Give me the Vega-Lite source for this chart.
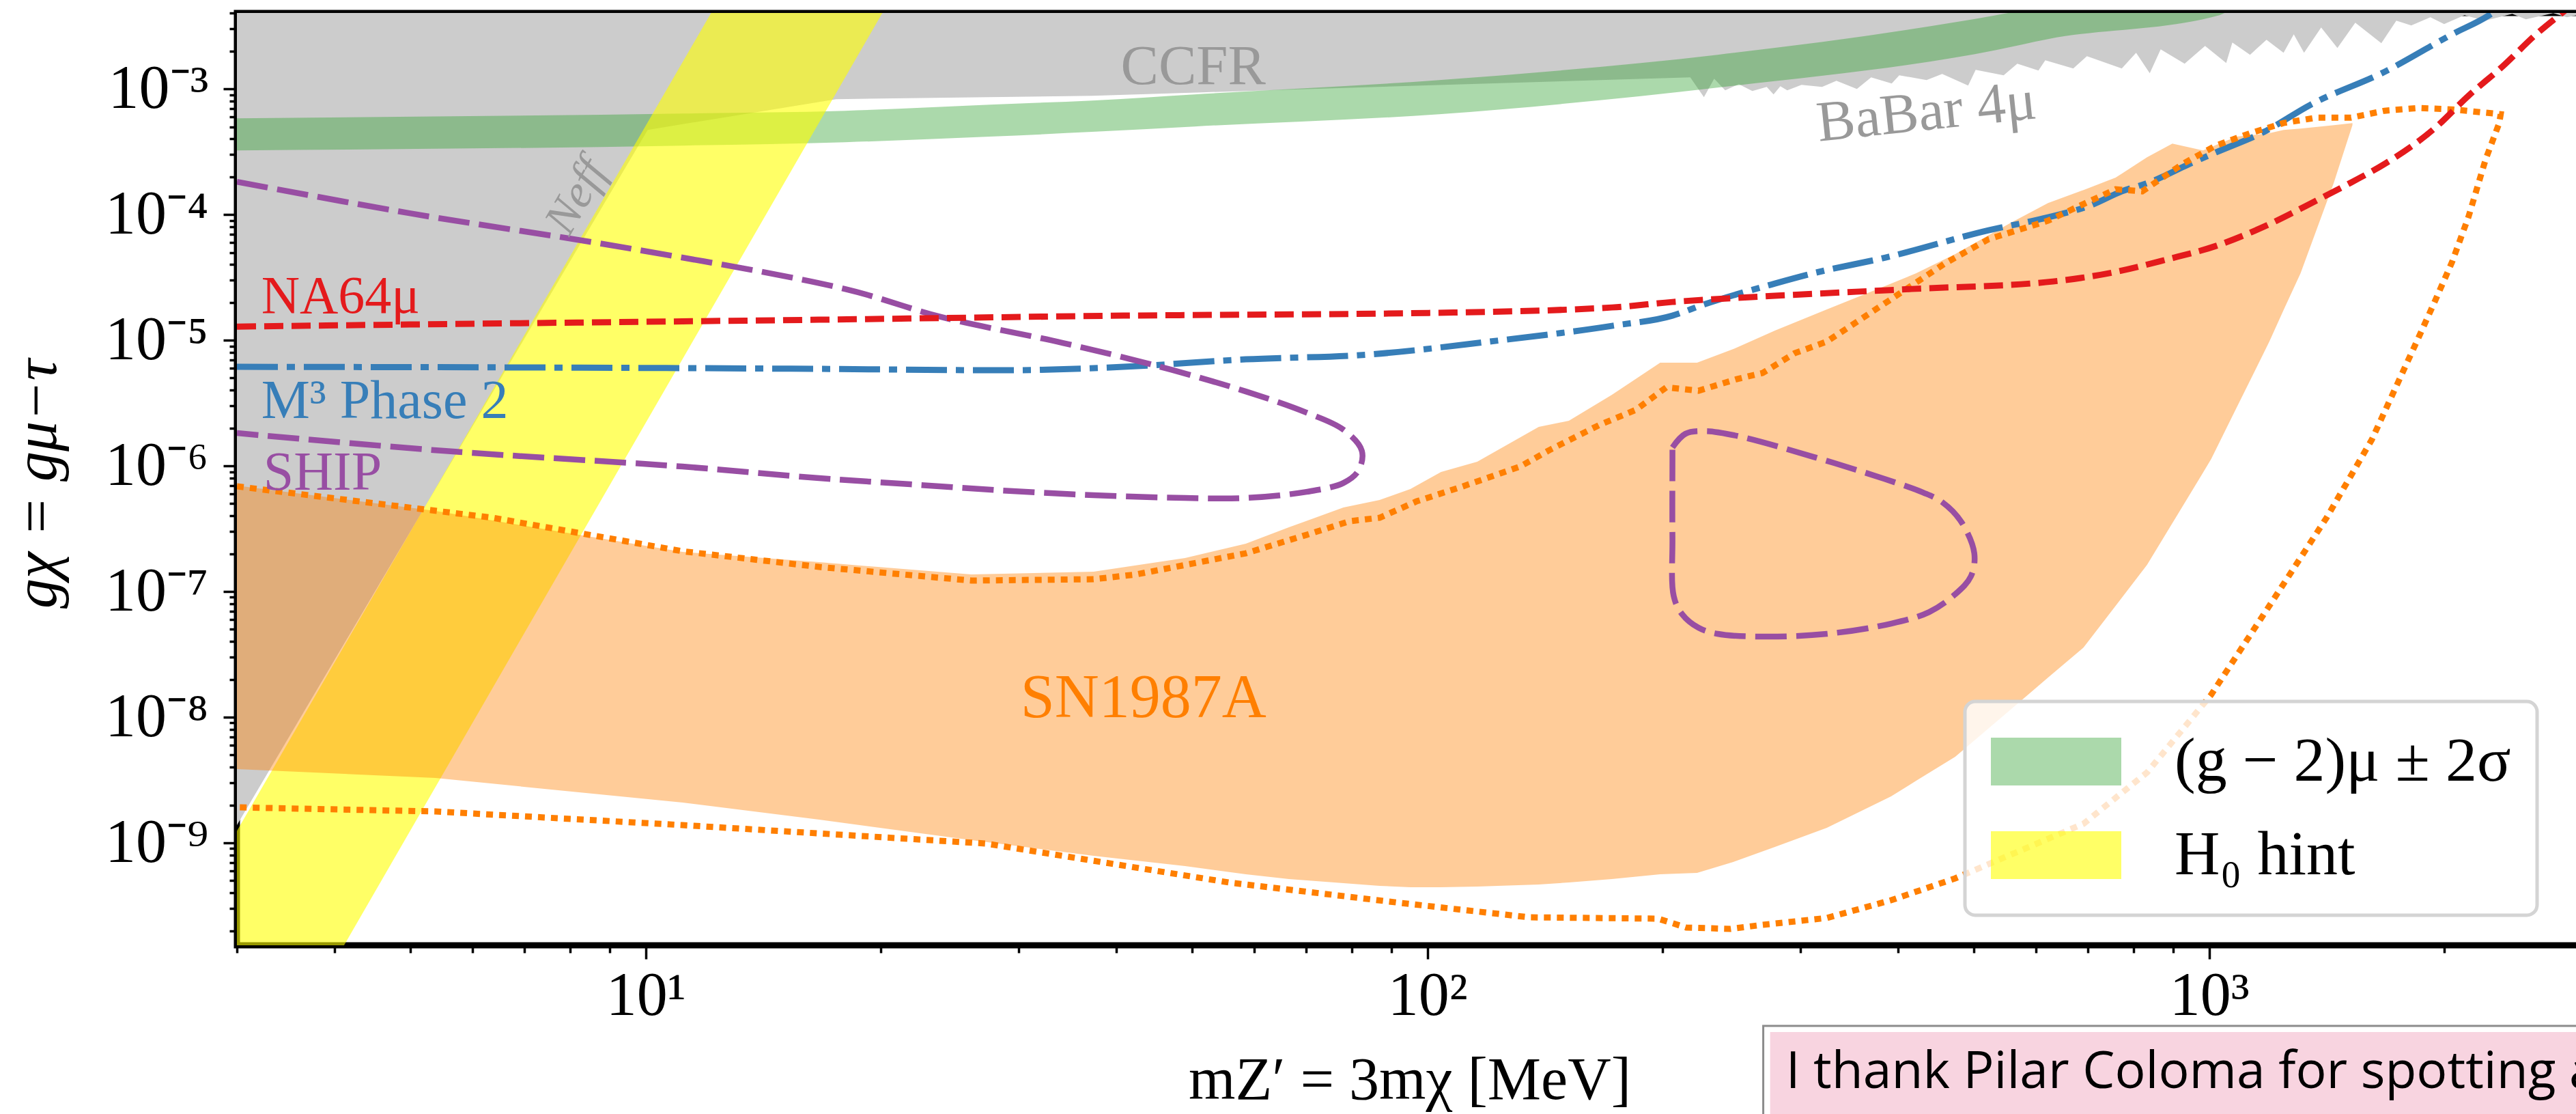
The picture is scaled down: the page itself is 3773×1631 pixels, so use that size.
{
"$schema":"https://vega.github.io/schema/vega-lite/v6.json",
"width":3435,"height":1365,
"autosize":{"type":"none"},
"padding":{"left":347,"top":19,"right":0,"bottom":247},
"background":"white",
"config":{
 "view":{"stroke":"black","strokeWidth":9},
 "axis":{"grid":false,"domainColor":"black","domainWidth":5,"tickColor":"black","tickWidth":3.5,"labelFont":"Liberation Serif","labelFontSize":90,"labelColor":"black","titleFont":"Liberation Serif","titleFontSize":88,"titleColor":"black","titleFontWeight":"normal","labelFlush":false,"labelOverlap":false,"labelBound":false,"zindex":1},
 "legend":{"strokeWidth":5},
 "text":{"font":"Liberation Serif"}
},
"datasets":{
 "gray":[
{"m":3,"g":1.384e-9,"g2":1},{"m":10.06,"g":4.719e-4,"g2":1},{"m":17.52,"g":8.289e-4,"g2":1},{"m":37.25,"g":8.824e-4,"g2":1},{"m":51.49,"g":9.393e-4,"g2":1},{"m":216.9,"g":1.237e-3,"g2":1},
{"m":225.8,"g":8.605e-4,"g2":1},{"m":232.7,"g":1.2065e-3,"g2":1},{"m":240.4,"g":9.752e-4,"g2":1},{"m":250.2,"g":1.0917e-3,"g2":1},{"m":260.4,"g":9.632e-4,"g2":1},{"m":271.7,"g":1.038e-3,"g2":1},{"m":277.2,"g":9.047e-4,"g2":1},{"m":282.8,"g":1.051e-3,"g2":1},{"m":288.6,"g":9.752e-4,"g2":1},{"m":301.0,"g":1.078e-3,"g2":1},{"m":319.8,"g":1.038e-3,"g2":1},{"m":333.6,"g":1.1621e-3,"g2":1},{"m":354.3,"g":1.0e-3,"g2":1},{"m":369.5,"g":1.237e-3,"g2":1},{"m":392.6,"g":1.1054e-3,"g2":1},{"m":401.4,"g":1.2844e-3,"g2":1},{"m":435.0,"g":1.1767e-3,"g2":1},{"m":455.5,"g":1.317e-3,"g2":1},{"m":491.7,"g":1.0646e-3,"g2":1},{"m":502.7,"g":1.4197e-3,"g2":1},{"m":545.9,"g":1.2844e-3,"g2":1},{"m":568.3,"g":1.589e-3,"g2":1},{"m":604.8,"g":1.402e-3,"g2":1},{"m":617.1,"g":1.6916e-3,"g2":1},{"m":670.1,"g":1.4557e-3,"g2":1},{"m":697.7,"g":1.8234e-3,"g2":1},{"m":773.1,"g":1.4557e-3,"g2":1},{"m":806.4,"g":1.9411e-3,"g2":1},{"m":839.5,"g":1.3335e-3,"g2":1},{"m":866.9,"g":2.0661e-3,"g2":1},{"m":930.2,"g":1.589e-3,"g2":1},{"m":988.0,"g":2.1992e-3,"g2":1},{"m":1051.5,"g":1.609e-3,"g2":1},{"m":1070.7,"g":2.3413e-3,"g2":1},{"m":1128,"g":1.8695e-3,"g2":1},{"m":1184,"g":2.4616e-3,"g2":1},{"m":1245,"g":1.9411e-3,"g2":1},{"m":1283,"g":2.7213e-3,"g2":1},{"m":1322.5,"g":1.9411e-3,"g2":1},{"m":1390.8,"g":3.0839e-3,"g2":1},{"m":1459,"g":2.1184e-3,"g2":1},{"m":1537.9,"g":3.3661e-3,"g2":1},{"m":1660.5,"g":2.3122e-3,"g2":1},{"m":1735.5,"g":3.495e-3,"g2":1},{"m":1813.6,"g":3.2018e-3,"g2":1},{"m":1918.8,"g":3.7206e-3,"g2":1},{"m":1997.9,"g":3.283e-3,"g2":1},{"m":2121.3,"g":3.8629e-3,"g2":1},{"m":2253.4,"g":3.495e-3,"g2":1},{"m":2441.9,"g":3.9608e-3,"g2":1},{"m":2542.1,"g":3.5836e-3,"g2":1},{"m":2755.2,"g":4.01e-3,"g2":1},{"m":2868.4,"g":3.7206e-3,"g2":1},{"m":3047,"g":4.01e-3,"g2":1}
 ],
 "green":[
{"m":3,"g":3.243e-4,"g2":5.840e-4,"band":"(g − 2)μ ± 2σ"},{"m":11.146,"g":3.539e-4,"g2":6.374e-4,"band":"(g − 2)μ ± 2σ"},{"m":17.99,"g":3.768e-4,"g2":6.700e-4,"band":"(g − 2)μ ± 2σ"},{"m":27.55,"g":4.166e-4,"g2":7.499e-4,"band":"(g − 2)μ ± 2σ"},{"m":37.25,"g":4.548e-4,"g2":8.085e-4,"band":"(g − 2)μ ± 2σ"},{"m":50.37,"g":5.025e-4,"g2":9.047e-4,"band":"(g − 2)μ ± 2σ"},{"m":103.5,"g":6.294e-4,"g2":1.1767e-3,"band":"(g − 2)μ ± 2σ"},{"m":235.0,"g":1.0254e-3,"g2":1.8695e-3,"band":"(g − 2)μ ± 2σ"},{"m":534.0,"g":2.040e-3,"g2":3.863e-3,"band":"(g − 2)μ ± 2σ"},{"m":622.2,"g":2.493e-3,"g2":4.603e-3,"band":"(g − 2)μ ± 2σ"},{"m":1031,"g":3.863e-3,"g2":8.394e-3,"band":"(g − 2)μ ± 2σ"},{"m":1049.5,"g":4.061e-3,"g2":8.935e-3,"band":"(g − 2)μ ± 2σ"}
 ],
 "yellow":[
{"m":3,"g":5.10e-12,"g2":1.243e-9,"band":"H₀ hint"},{"m":20.38,"g":4.714e-3,"g2":1.059,"band":"H₀ hint"}
 ],
 "sn":[
{"m":3,"g":3.863e-9,"g2":6.956e-7},{"m":5.383,"g":3.283e-9,"g2":4.377e-7},{"m":11.146,"g":2.092e-9,"g2":2.066e-7},{"m":16.67,"g":1.530e-9,"g2":1.712e-7},{"m":26.10,"g":1.051e-9,"g2":1.367e-7},{"m":37.40,"g":7.885e-10,"g2":1.438e-7},{"m":48.97,"g":6.534e-10,"g2":1.846e-7},{"m":58.57,"g":5.623e-10,"g2":2.401e-7},{"m":66.49,"g":5.152e-10,"g2":3.243e-7},{"m":78.08,"g":4.780e-10,"g2":4.661e-7},{"m":86.87,"g":4.548e-10,"g2":5.350e-7},{"m":95.10,"g":4.435e-10,"g2":6.534e-7},{"m":104.1,"g":4.435e-10,"g2":8.935e-7},{"m":115.8,"g":4.491e-10,"g2":1.078e-6},{"m":138.8,"g":4.661e-10,"g2":2.040e-6},{"m":151.7,"g":4.840e-10,"g2":2.284e-6},{"m":172.2,"g":5.152e-10,"g2":3.674e-6},{"m":198.5,"g":5.623e-10,"g2":6.616e-6},{"m":221.3,"g":5.768e-10,"g2":6.616e-6},{"m":246.2,"g":7.044e-10,"g2":8.500e-6},{"m":278.3,"g":9.278e-10,"g2":1.192e-5},{"m":324.3,"g":1.317e-9,"g2":1.756e-5},{"m":391.8,"g":2.341e-9,"g2":2.825e-5},{"m":422.0,"g":3.123e-9,"g2":3.409e-5},{"m":473.3,"g":4.840e-9,"g2":4.840e-5},{"m":555.8,"g":1.133e-8,"g2":8.500e-5},{"m":622.2,"g":2.066e-8,"g2":1.237e-4},{"m":690.7,"g":3.584e-8,"g2":1.569e-4},{"m":759.2,"g":7.689e-8,"g2":1.966e-4},{"m":832.8,"g":1.629e-7,"g2":2.861e-4},{"m":897.2,"g":3.495e-7,"g2":3.674e-4},{"m":982.1,"g":8.824e-7,"g2":3.243e-4},{"m":1006,"g":1.133e-6,"g2":3.452e-4},{"m":1084,"g":2.897e-6,"g2":4.166e-4},{"m":1194,"g":9.753e-6,"g2":4.435e-4},{"m":1245,"g":1.735e-5,"g2":4.719e-4},{"m":1309,"g":3.409e-5,"g2":4.840e-4},{"m":1444,"g":1.800e-4,"g2":5.152e-4},{"m":1525,"g":5.152e-4,"g2":5.350e-4}
 ],
 "red":[
{"m":3,"g":1.284e-5},{"m":4.987,"g":1.334e-5},{"m":16.67,"g":1.456e-5},{"m":40.87,"g":1.569e-5},{"m":100.4,"g":1.649e-5},{"m":172.2,"g":1.823e-5},{"m":205.8,"g":2.015e-5},{"m":278.3,"g":2.256e-5},{"m":416.2,"g":2.556e-5},{"m":631.0,"g":2.934e-5},{"m":759.2,"g":3.495e-5},{"m":881.0,"g":4.377e-5},{"m":1020,"g":5.623e-5},{"m":1184,"g":8.186e-5},{"m":1374,"g":1.301e-4},{"m":1519,"g":1.800e-4},{"m":1676,"g":2.524e-4},{"m":1946,"g":4.901e-4},{"m":2147,"g":8.824e-4},{"m":2374,"g":1.511e-3},{"m":2620,"g":2.721e-3},{"m":2805,"g":3.863e-3},{"m":2927,"g":4.780e-3}
 ],
 "blue":[
{"m":3,"g":6.139e-6},{"m":7.456,"g":6.063e-6},{"m":16.67,"g":5.913e-6},{"m":28.57,"g":5.768e-6},{"m":40.87,"g":6.139e-6},{"m":58.57,"g":7.044e-6},{"m":83.95,"g":7.689e-6},{"m":120.1,"g":9.753e-6},{"m":172.2,"g":1.301e-5},{"m":205.8,"g":1.569e-5},{"m":225.4,"g":1.917e-5},{"m":278.3,"g":2.825e-5},{"m":311.5,"g":3.409e-5},{"m":385.5,"g":4.548e-5},{"m":522.3,"g":7.499e-5},{"m":622.2,"g":9.512e-5},{"m":707.5,"g":1.192e-4},{"m":773.1,"g":1.530e-4},{"m":837.8,"g":1.800e-4},{"m":943.3,"g":2.524e-4},{"m":1020,"g":3.123e-4},{"m":1175,"g":4.548e-4},{"m":1349,"g":7.499e-4},{"m":1676,"g":1.367e-3},{"m":2046,"g":2.721e-3},{"m":2281,"g":3.863e-3},{"m":2393,"g":4.780e-3}
 ],
 "dotted":[
{"i":1,"m":3,"g":6.870e-7},{"i":2,"m":6.374,"g":3.863e-7},{"i":3,"m":11.146,"g":2.092e-7},{"i":4,"m":16.67,"g":1.569e-7},{"i":5,"m":26.10,"g":1.222e-7},{"i":6,"m":37.40,"g":1.253e-7},{"i":7,"m":42.37,"g":1.367e-7},{"i":8,"m":58.57,"g":2.015e-7},{"i":9,"m":70.04,"g":2.825e-7},{"i":10,"m":79.51,"g":3.629e-7},{"i":11,"m":86.87,"g":3.863e-7},{"i":12,"m":96.84,"g":5.217e-7},{"i":13,"m":109.7,"g":6.700e-7},{"i":14,"m":131.4,"g":9.876e-7},{"i":15,"m":143.7,"g":1.350e-6},{"i":16,"m":166.0,"g":2.119e-6},{"i":17,"m":184.7,"g":2.790e-6},{"i":18,"m":202.1,"g":4.217e-6},{"i":19,"m":222.2,"g":3.961e-6},{"i":20,"m":248.7,"g":4.901e-6},{"i":21,"m":268.4,"g":5.484e-6},{"i":22,"m":295.0,"g":7.885e-6},{"i":23,"m":324.3,"g":9.753e-6},{"i":24,"m":389.4,"g":2.066e-5},{"i":25,"m":460.1,"g":4.114e-5},{"i":26,"m":522.3,"g":6.374e-5},{"i":27,"m":622.2,"g":8.935e-5},{"i":28,"m":686.5,"g":1.192e-4},{"i":29,"m":759.2,"g":1.589e-4},{"i":30,"m":821.2,"g":1.530e-4},{"i":31,"m":924.6,"g":2.524e-4},{"i":32,"m":1020,"g":3.539e-4},{"i":33,"m":1128,"g":4.435e-4},{"i":34,"m":1245,"g":5.350e-4},{"i":35,"m":1374,"g":5.913e-4},{"i":36,"m":1519,"g":5.913e-4},{"i":37,"m":1676,"g":6.700e-4},{"i":38,"m":1850,"g":7.044e-4},{"i":39,"m":2046,"g":6.870e-4},{"i":40,"m":2360,"g":6.294e-4},{"i":41,"m":2350,"g":5.350e-4},{"i":42,"m":2258,"g":2.755e-4},{"i":43,"m":2147,"g":9.632e-5},{"i":44,"m":2046,"g":4.217e-5},{"i":45,"m":1946,"g":2.066e-5},{"i":46,"m":1843,"g":9.753e-6},{"i":47,"m":1614,"g":1.609e-6},{"i":48,"m":1413,"g":3.863e-7},{"i":49,"m":1216,"g":9.163e-8},{"i":50,"m":1006,"g":1.511e-8},{"i":51,"m":832.8,"g":3.629e-9},{"i":52,"m":690.7,"g":1.420e-9},{"i":53,"m":571.7,"g":8.605e-10},{"i":54,"m":473.3,"g":5.217e-10},{"i":55,"m":391.8,"g":3.495e-10},{"i":56,"m":324.3,"g":2.524e-10},{"i":57,"m":268.4,"g":2.227e-10},{"i":58,"m":244.2,"g":2.066e-10},{"i":59,"m":214.3,"g":2.119e-10},{"i":60,"m":197.3,"g":2.493e-10},{"i":61,"m":134.9,"g":2.556e-10},{"i":62,"m":92.47,"g":3.325e-10},{"i":63,"m":55.70,"g":4.840e-10},{"i":64,"m":27.22,"g":9.876e-10},{"i":65,"m":11.146,"g":1.384e-9},{"i":66,"m":5.383,"g":1.778e-9},{"i":67,"m":3,"g":1.917e-9}
 ],
 "shipbig":[
{"i":1,"m":3,"g":1.823e-4},{"i":2,"m":4.987,"g":1.025e-4},{"i":3,"m":9.472,"g":5.417e-5},{"i":4,"m":17.99,"g":2.556e-5},{"i":5,"m":23.89,"g":1.530e-5},{"i":6,"m":34.16,"g":9.512e-6},{"i":7,"m":45.56,"g":6.139e-6},{"i":8,"m":58.57,"g":3.912e-6},{"i":9,"m":70.04,"g":2.654e-6},{"i":10,"m":78.08,"g":1.941e-6},{"i":11,"m":82.44,"g":1.317e-6},{"i":12,"m":81.61,"g":9.163e-7},{"i":13,"m":78.08,"g":7.313e-7},{"i":14,"m":70.04,"g":6.216e-7},{"i":15,"m":58.57,"g":5.553e-7},{"i":16,"m":48.97,"g":5.553e-7},{"i":17,"m":37.40,"g":5.840e-7},{"i":18,"m":28.57,"g":6.374e-7},{"i":19,"m":21.82,"g":7.133e-7},{"i":20,"m":16.67,"g":7.984e-7},{"i":21,"m":11.146,"g":9.876e-7},{"i":22,"m":5.514,"g":1.317e-6},{"i":23,"m":3,"g":1.823e-6}
 ],
 "shipsmall":[
{"i":1,"m":205.8,"g":1.402e-6},{"i":2,"m":213.8,"g":1.800e-6},{"i":3,"m":226.3,"g":1.893e-6},{"i":4,"m":248.7,"g":1.735e-6},{"i":5,"m":312.1,"g":1.177e-6},{"i":6,"m":384.0,"g":7.885e-7},{"i":7,"m":430.6,"g":6.139e-7},{"i":8,"m":455.5,"g":5.152e-7},{"i":9,"m":481.9,"g":3.584e-7},{"i":10,"m":500.7,"g":2.015e-7},{"i":11,"m":495.6,"g":1.317e-7},{"i":12,"m":473.3,"g":9.512e-8},{"i":13,"m":438.4,"g":6.870e-8},{"i":14,"m":391.8,"g":5.553e-8},{"i":15,"m":324.3,"g":4.603e-8},{"i":16,"m":268.4,"g":4.377e-8},{"i":17,"m":235.1,"g":4.603e-8},{"i":18,"m":222.2,"g":5.152e-8},{"i":19,"m":211.7,"g":6.616e-8},{"i":20,"m":206.6,"g":9.163e-8},{"i":21,"m":205.8,"g":2.688e-7},{"i":22,"m":205.8,"g":1.133e-6},{"i":23,"m":205.8,"g":1.402e-6}
 ]
},
"encoding":{
 "x":{"field":"m","type":"quantitative","scale":{"type":"log","domain":[3,3000],"nice":false},"axis":null},
 "y":{"field":"g","type":"quantitative","scale":{"type":"log","domain":[1.53e-10,4.02e-3],"nice":false},"axis":null}
},
"layer":[
 {"data":{"name":"gray"},"mark":{"type":"area","color":"#cccccc","opacity":1,"clip":true},
  "encoding":{
   "x":{"field":"m","type":"quantitative","scale":{"type":"log","domain":[3,3000],"nice":false},
        "axis":{"orient":"bottom","values":[10,100,1000],"tickSize":20,"labelPadding":10,"labelExpr":"'10' + replace(replace(replace(replace(replace(replace(replace(replace(replace(replace(replace(toString(round(log(datum.value)/LN10)),'-','⁻'),'0','⁰'),'1','¹'),'2','²'),'3','³'),'4','⁴'),'5','⁵'),'6','⁶'),'7','⁷'),'8','⁸'),'9','⁹')","title":"mZ′ = 3mχ [MeV]","titleX":1717.5,"titleY":224,"titleBaseline":"alphabetic","titleAlign":"center","titleAnchor":"middle"}},
   "y":{"field":"g","type":"quantitative","scale":{"type":"log","domain":[1.53e-10,4.02e-3],"nice":false},
        "axis":{"orient":"left","values":[1e-9,1e-8,1e-7,1e-6,1e-5,1e-4,1e-3],"tickSize":20,"labelPadding":22,"labelExpr":"'10' + replace(replace(replace(replace(replace(replace(replace(replace(replace(replace(replace(toString(round(log(datum.value)/LN10)),'-','⁻'),'0','⁰'),'1','¹'),'2','²'),'3','³'),'4','⁴'),'5','⁵'),'6','⁶'),'7','⁷'),'8','⁸'),'9','⁹')","title":"gχ = gμ−τ","titleFontStyle":"italic","titleX":-266,"titleY":689,"titleAngle":270,"titleBaseline":"alphabetic","titleAlign":"center"}},
   "y2":{"field":"g2"}}},
 {"data":{"name":"green"},"mark":{"type":"area","opacity":1,"clip":true,"interpolate":"monotone"},
  "encoding":{
   "x":{"field":"m","type":"quantitative","scale":{"type":"log","domain":[3,3000],"nice":false},
        "axis":{"orient":"bottom","values":[3,4,5,6,7,8,9,20,30,40,50,60,70,80,90,200,300,400,500,600,700,800,900,2000,3000],"tickSize":11,"labels":false,"domain":false,"title":null}},
   "y":{"field":"g","type":"quantitative","scale":{"type":"log","domain":[1.53e-10,4.02e-3],"nice":false},
        "axis":{"orient":"left","values":[2e-10,3e-10,4e-10,5e-10,6e-10,7e-10,8e-10,9e-10,2e-9,3e-9,4e-9,5e-9,6e-9,7e-9,8e-9,9e-9,2e-8,3e-8,4e-8,5e-8,6e-8,7e-8,8e-8,9e-8,2e-7,3e-7,4e-7,5e-7,6e-7,7e-7,8e-7,9e-7,2e-6,3e-6,4e-6,5e-6,6e-6,7e-6,8e-6,9e-6,2e-5,3e-5,4e-5,5e-5,6e-5,7e-5,8e-5,9e-5,2e-4,3e-4,4e-4,5e-4,6e-4,7e-4,8e-4,9e-4,2e-3,3e-3,4e-3],"tickSize":11,"labels":false,"domain":false,"title":null}},
   "y2":{"field":"g2"},
   "fill":{"field":"band","type":"nominal","scale":{"domain":["(g − 2)μ ± 2σ","H₀ hint"],"range":["rgba(44,160,44,0.4)","rgba(255,255,0,0.6)"]},
           "legend":{"orient":"none","legendX":2531,"legendY":1008,"title":null,"symbolType":"M-1,-0.366L1,-0.366L1,0.366L-1,0.366Z","symbolSize":36481,"symbolStrokeWidth":0,"symbolOpacity":1,"clipHeight":100,"labelFont":"Liberation Serif","labelFontSize":92,"labelColor":"black","labelLimit":0,"labelOffset":78,"rowPadding":37,"padding":38,"fillColor":"rgba(255,255,255,0.8)","strokeColor":"#d4d4d4","cornerRadius":15}}}},
 {"data":{"name":"yellow"},"mark":{"type":"area","opacity":1,"clip":true},
  "encoding":{"y2":{"field":"g2"},
   "fill":{"field":"band","type":"nominal","scale":{"domain":["(g − 2)μ ± 2σ","H₀ hint"],"range":["rgba(44,160,44,0.4)","rgba(255,255,0,0.6)"]},
           "legend":{"orient":"none","legendX":2531,"legendY":1008,"title":null,"symbolType":"M-1,-0.366L1,-0.366L1,0.366L-1,0.366Z","symbolSize":36481,"symbolStrokeWidth":0,"symbolOpacity":1,"clipHeight":100,"labelFont":"Liberation Serif","labelFontSize":92,"labelColor":"black","labelLimit":0,"labelOffset":78,"rowPadding":37,"padding":38,"fillColor":"rgba(255,255,255,0.8)","strokeColor":"#d4d4d4","cornerRadius":15}}}},
 {"data":{"name":"sn"},"mark":{"type":"area","color":"rgba(255,127,0,0.4)","opacity":1,"clip":true},"encoding":{"y2":{"field":"g2"}}},
 {"data":{"name":"blue"},"mark":{"type":"line","color":"#377eb8","strokeWidth":9,"strokeDash":[60,13,12,13],"strokeCap":"butt","clip":true,"interpolate":"monotone"},"encoding":{}},
 {"data":{"name":"dotted"},"mark":{"type":"line","color":"#ff7f00","strokeWidth":9,"strokeDash":[10,9],"strokeCap":"butt","clip":true},"encoding":{"order":{"field":"i","type":"quantitative"}}},
 {"data":{"name":"shipbig"},"mark":{"type":"line","color":"#984ea3","strokeWidth":8.5,"strokeDash":[46,14],"strokeCap":"butt","clip":true,"interpolate":"catmull-rom"},"encoding":{"order":{"field":"i","type":"quantitative"}}},
 {"data":{"name":"shipsmall"},"mark":{"type":"line","color":"#984ea3","strokeWidth":8.5,"strokeDash":[46,14],"strokeCap":"butt","clip":true,"interpolate":"catmull-rom"},"encoding":{"order":{"field":"i","type":"quantitative"}}},
 {"data":{"name":"red"},"mark":{"type":"line","color":"#e41a1c","strokeWidth":9,"strokeDash":[28,12],"strokeCap":"butt","clip":true,"interpolate":"monotone"},"encoding":{}},
 {"data":{"values":[{"m":50.17,"g":1.492e-3,"label":"CCFR"}]},"mark":{"type":"text","fontSize":83,"fill":"#999999","align":"center","baseline":"middle"},"encoding":{"text":{"field":"label"}}},
 {"data":{"values":[{"m":435.0,"g":6.454e-4,"label":"BaBar 4μ"}]},"mark":{"type":"text","fontSize":84,"fill":"#999999","align":"center","baseline":"middle","angle":-6},"encoding":{"text":{"field":"label"}}},
 {"data":{"values":[{"m":8.162,"g":1.384e-4,"label":"Neff"}]},"mark":{"type":"text","fontSize":68,"fontStyle":"italic","fill":"#999999","align":"center","baseline":"middle","angle":-60},"encoding":{"text":{"field":"label"}}},
 {"data":{"values":[{"m":3.223,"g":1.649e-5,"label":"NA64μ"}]},"mark":{"type":"text","fontSize":78,"fill":"#e41a1c","align":"left","baseline":"alphabetic"},"encoding":{"text":{"field":"label"}}},
 {"data":{"values":[{"m":3.223,"g":2.401e-6,"label":"M³ Phase 2"}]},"mark":{"type":"text","fontSize":80,"fill":"#377eb8","align":"left","baseline":"alphabetic"},"encoding":{"text":{"field":"label"}}},
 {"data":{"values":[{"m":3.243,"g":6.454e-7,"label":"SHIP"}]},"mark":{"type":"text","fontSize":80,"fill":"#984ea3","align":"left","baseline":"alphabetic"},"encoding":{"text":{"field":"label"}}},
 {"data":{"values":[{"m":43.32,"g":1.402e-8,"label":"SN1987A"}]},"mark":{"type":"text","fontSize":90,"fill":"#ff7f00","align":"center","baseline":"middle"},"encoding":{"text":{"field":"label"}}},
 {"data":{"values":[{"m":268.9,"m2":100000,"g":3.495e-11,"g2":1e-14}]},"mark":{"type":"rect","fill":"white","stroke":"#8c8c8c","strokeWidth":3,"clip":false},"encoding":{"x2":{"field":"m2"},"y2":{"field":"g2"}}},
 {"data":{"values":[{"m":274.4,"m2":100000,"g":3.123e-11,"g2":1e-14}]},"mark":{"type":"rect","fill":"#f8d4e0","clip":false},"encoding":{"x2":{"field":"m2"},"y2":{"field":"g2"}}},
 {"data":{"values":[{"m":287.4,"g":1.1194e-11,"label":"I thank Pilar Coloma for spotting a"}]},"mark":{"type":"text","font":"Open Sans","fontSize":75,"fill":"black","align":"left","baseline":"alphabetic","clip":false},"encoding":{"text":{"field":"label"}}}
],
"resolve":{"axis":{"x":"independent","y":"independent"}}
}
